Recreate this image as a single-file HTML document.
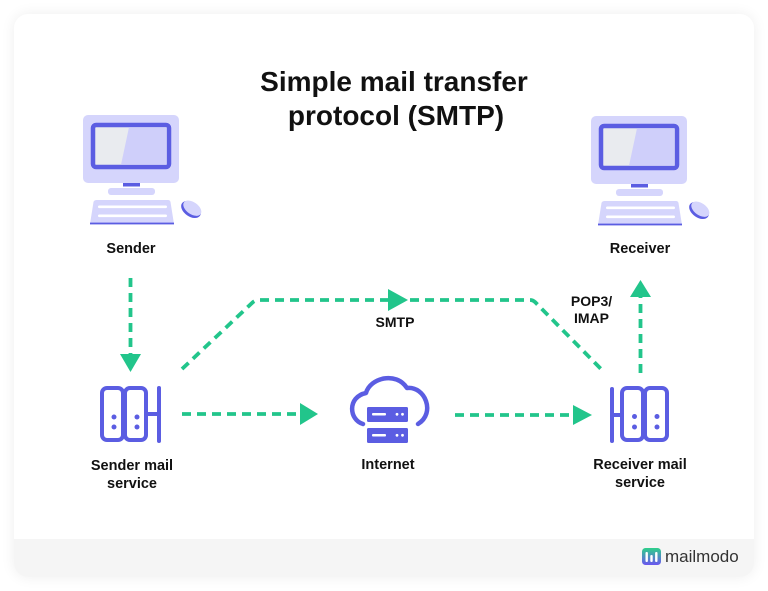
<!DOCTYPE html>
<html><head><meta charset="utf-8"><style>
html,body{margin:0;padding:0;background:#fff;width:768px;height:591px;overflow:hidden}
.card{position:absolute;left:14px;top:14px;width:740px;height:563px;border-radius:14px;background:#fff;box-shadow:0 0 14px rgba(0,0,0,0.07);overflow:hidden}
.foot{position:absolute;left:0;top:525px;width:740px;height:38px;background:#f5f5f5}
svg{position:absolute;left:0;top:0}
text{font-family:"Liberation Sans",Arial,sans-serif}
</style></head><body>
<div class="card"><div class="foot"></div></div>
<svg width="768" height="591" viewBox="0 0 768 591" xmlns="http://www.w3.org/2000/svg">
<defs>
<g id="pc">
  <rect x="83" y="115" width="96" height="68" rx="5" fill="#d5d5fc"/>
  <rect x="93" y="125" width="76" height="42" rx="3" fill="#e9ebef" stroke="#5b5de2" stroke-width="4.5"/>
  <polygon points="129,127.3 166.7,127.3 166.7,164.7 121,164.7" fill="#cfcffa"/>
  <rect x="123" y="183" width="17" height="3.5" fill="#5b5de2"/>
  <rect x="108" y="188" width="47" height="7" rx="3" fill="#d5d5fc"/>
  <path d="M97,200 L168,200 Q170,200 170.5,202 L174,224 L90,224 L93.5,202 Q94,200 97,200 Z" fill="#d5d5fc"/>
  <rect x="98" y="205.5" width="69" height="2.6" rx="1.3" fill="#fff"/>
  <rect x="98" y="214.5" width="69" height="2.6" rx="1.3" fill="#fff"/>
  <rect x="90" y="222.6" width="84" height="1.8" fill="#5b5de2"/>
  <ellipse cx="191" cy="209.5" rx="11" ry="7" transform="rotate(35 191 209.5)" fill="#5b5de2"/>
  <ellipse cx="192.3" cy="208.2" rx="10.2" ry="6" transform="rotate(35 192.3 208.2)" fill="#d5d5fc"/>
</g>
</defs>

<!-- title -->
<text x="394" y="91" text-anchor="middle" font-size="28" font-weight="bold" fill="#111">Simple mail transfer</text>
<text x="396" y="125" text-anchor="middle" font-size="28" font-weight="bold" fill="#111">protocol (SMTP)</text>

<!-- computers -->
<use href="#pc"/>
<use href="#pc" transform="translate(508,1)"/>
<text x="131" y="253" text-anchor="middle" font-size="14.5" font-weight="bold" fill="#111">Sender</text>
<text x="640" y="253" text-anchor="middle" font-size="14.5" font-weight="bold" fill="#111">Receiver</text>

<!-- sender mail service -->
<g fill="none" stroke="#5b5de2" stroke-width="4" stroke-linecap="round">
  <rect x="102" y="388" width="21" height="52" rx="5"/>
  <rect x="125" y="388" width="21" height="52" rx="5"/>
  <line x1="146" y1="414" x2="159" y2="414"/>
  <line x1="159" y1="388" x2="159" y2="441"/>
</g>
<g fill="#5b5de2">
  <circle cx="114" cy="417" r="2.5"/><circle cx="114" cy="427" r="2.5"/>
  <circle cx="137" cy="417" r="2.5"/><circle cx="137" cy="427" r="2.5"/>
</g>
<text x="132" y="470" text-anchor="middle" font-size="14.5" font-weight="bold" fill="#111">Sender mail</text>
<text x="132" y="488" text-anchor="middle" font-size="14.5" font-weight="bold" fill="#111">service</text>

<!-- receiver mail service -->
<g fill="none" stroke="#5b5de2" stroke-width="4" stroke-linecap="round">
  <rect x="622" y="388" width="21" height="52" rx="5"/>
  <rect x="645" y="388" width="22" height="52" rx="5"/>
  <line x1="612" y1="415" x2="622" y2="415"/>
  <line x1="612" y1="389" x2="612" y2="441"/>
</g>
<g fill="#5b5de2">
  <circle cx="634.5" cy="416.5" r="2.5"/><circle cx="634.5" cy="427" r="2.5"/>
  <circle cx="657" cy="416.5" r="2.5"/><circle cx="657" cy="427" r="2.5"/>
</g>
<text x="640" y="469" text-anchor="middle" font-size="14.5" font-weight="bold" fill="#111">Receiver mail</text>
<text x="640" y="487" text-anchor="middle" font-size="14.5" font-weight="bold" fill="#111">service</text>

<!-- internet -->
<path d="M363,424 C349,420 347,397 366,393 C370,378 396,371 407,388 C425,386 436,413 418,424" fill="none" stroke="#5b5de2" stroke-width="4.5" stroke-linecap="round" stroke-linejoin="round"/>
<rect x="367" y="407" width="41" height="15" rx="1.5" fill="#5b5de2"/>
<rect x="367" y="428" width="41" height="15" rx="1.5" fill="#5b5de2"/>
<g fill="#fff">
  <rect x="372" y="413" width="14" height="2.5" rx="1"/>
  <rect x="372" y="434" width="14" height="2.5" rx="1"/>
  <circle cx="397" cy="414.3" r="1.4"/><circle cx="402.5" cy="414.3" r="1.4"/>
  <circle cx="397" cy="435.3" r="1.4"/><circle cx="402.5" cy="435.3" r="1.4"/>
</g>
<text x="388" y="469" text-anchor="middle" font-size="14.5" font-weight="bold" fill="#111">Internet</text>

<!-- connectors -->
<g fill="none" stroke="#22c58b" stroke-width="3.8" stroke-dasharray="9 6">
  <line x1="130.5" y1="278" x2="130.5" y2="354"/>
  <path d="M182,369 L252,303 Q255,300 259,300 L530,300 Q533,300 535,302 L602,370"/>
  <line x1="640.5" y1="373" x2="640.5" y2="297"/>
  <line x1="182" y1="414" x2="300" y2="414"/>
  <line x1="455" y1="415" x2="573" y2="415"/>
</g>
<g fill="#22c58b">
  <polygon points="120,354 141,354 130.5,372"/>
  <polygon points="388,289 388,311 408,300"/>
  <polygon points="630,297 651,297 640.5,280"/>
  <polygon points="300,403 300,425 318,414"/>
  <polygon points="573,405 573,425 592,415"/>
</g>
<text x="395" y="327" text-anchor="middle" font-size="14" font-weight="bold" fill="#111">SMTP</text>
<text x="591.5" y="306" text-anchor="middle" font-size="14" font-weight="bold" fill="#111">POP3/</text>
<text x="591.5" y="323" text-anchor="middle" font-size="14" font-weight="bold" fill="#111">IMAP</text>

<!-- logo -->
<defs>
<linearGradient id="lg" x1="0" y1="0" x2="0" y2="1">
  <stop offset="0" stop-color="#2ed08a"/><stop offset="1" stop-color="#6b55f0"/>
</linearGradient>
</defs>
<rect x="642" y="548" width="19" height="17" rx="3.5" fill="url(#lg)"/>
<g fill="#fff">
  <rect x="645.5" y="552" width="2.4" height="10" rx="1"/>
  <rect x="650.3" y="555" width="2.4" height="7" rx="1"/>
  <rect x="655.1" y="552" width="2.4" height="10" rx="1"/>
</g>
<text x="665" y="562" font-size="17" fill="#333">mailmodo</text>
</svg>
</body></html>
